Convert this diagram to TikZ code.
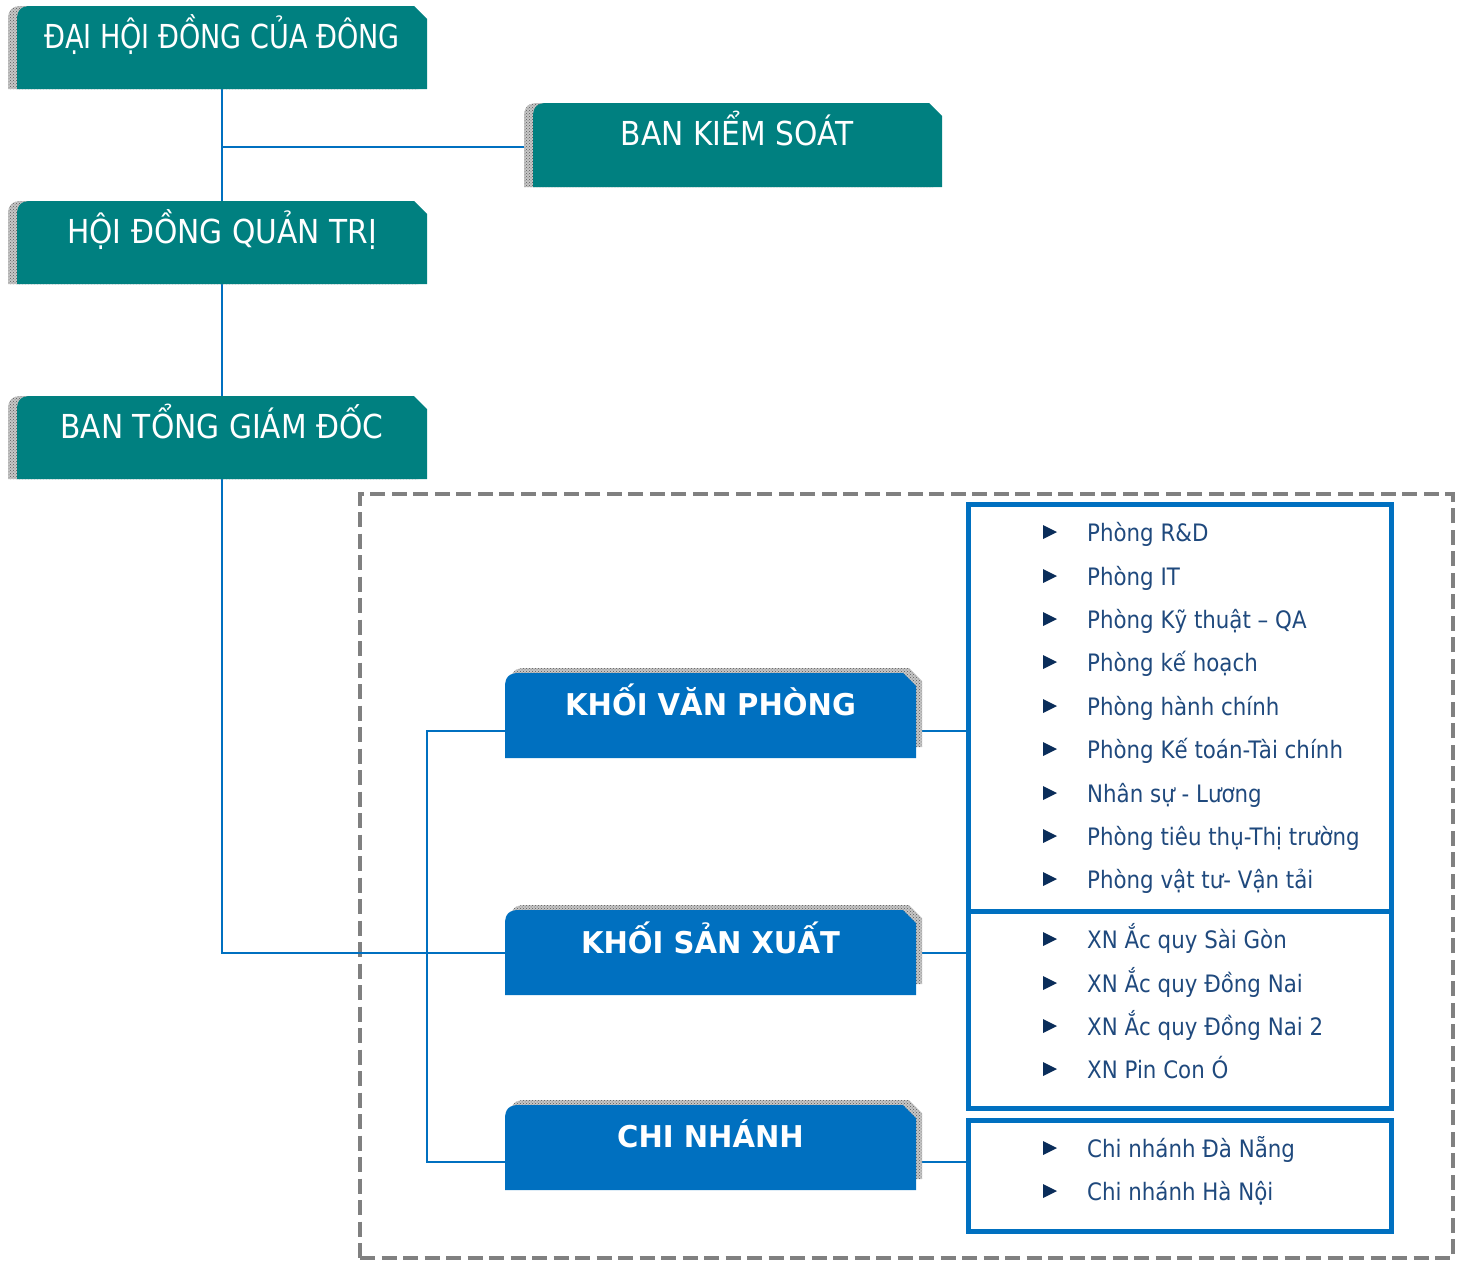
\documentclass[tikz,border=0pt]{standalone}
\usepackage{fontspec}
\setmainfont{DejaVu Sans}[FakeStretch=0.89]
\newfontfamily\headfam{DejaVu Sans}[FakeStretch=0.82]
\newfontfamily\headfamw{DejaVu Sans}[FakeStretch=0.90]
\newfontfamily\boldfam{DejaVu Sans}[FakeStretch=0.97]
\usetikzlibrary{patterns}
\definecolor{tealbox}{RGB}{0,128,128}
\definecolor{lineblue}{RGB}{0,112,192}
\definecolor{itemcol}{RGB}{31,73,125}
\definecolor{bulletcol}{RGB}{10,45,90}
\definecolor{dashgray}{RGB}{128,128,128}
\newcommand\chamfbox[5]{\fill[#1] (#2,#5) -- (#2,#3+14) .. controls (#2,#3+4) and (#2+4,#3) .. (#2+14,#3) -- (#4-13,#3) -- (#4,#3+13) -- (#4,#5) -- cycle;}
\tikzset{
  frame/.style={inner sep=0pt, outer sep=0pt, anchor=north west},
  conn/.style={draw=lineblue, line width=2pt},
  shadowfill/.style={preaction={fill=gray!45}, pattern=crosshatch dots, pattern color=black!65},
  tealtxt/.style={text=white, font=\headfamw\fontsize{33}{40}\selectfont, anchor=base, inner sep=0pt},
  bluetxt/.style={text=white, font=\boldfam\bfseries\fontsize{30}{36}\selectfont, anchor=base, inner sep=0pt},
  itemtxt/.style={text=itemcol, font=\fontsize{24}{29}\selectfont, anchor=base west, inner sep=0pt},
  listbox/.style={frame, draw=lineblue, line width=5pt},
}
\begin{document}
\begin{tikzpicture}[x=1pt, y=-1pt]
\useasboundingbox (0,0) rectangle (1465,1264);
\fill[white] (0,0) rectangle (1465,1264);

% group frame
\node[frame, draw=dashgray, line width=4pt, dash pattern=on 15pt off 6.5pt,
      minimum width=1092.5pt, minimum height=764pt] (grp) at (360,494) {};

% invisible box frames
\node[frame, minimum width=410pt, minimum height=83pt] (dhd) at (17,6) {};
\node[frame, minimum width=409pt, minimum height=84pt] (bks) at (533,103) {};
\node[frame, minimum width=410pt, minimum height=83pt] (hdqt) at (17,201) {};
\node[frame, minimum width=410pt, minimum height=83pt] (btgd) at (17,396) {};
\node[frame, minimum width=411pt, minimum height=85pt] (kvp) at (505,673) {};
\node[frame, minimum width=411pt, minimum height=85pt] (ksx) at (505,910) {};
\node[frame, minimum width=411pt, minimum height=85pt] (cn) at (505,1105) {};

% list boxes
\node[listbox, minimum width=423pt, minimum height=406.5pt] (la) at (968.5,504.5) {};
\node[listbox, minimum width=423pt, minimum height=197pt] (lb) at (968.5,911) {};
\node[listbox, minimum width=423pt, minimum height=111pt] (lc) at (968.5,1120) {};

% connectors
\coordinate (kvpL) at ([yshift=-15pt]kvp.west);
\coordinate (kvpR) at ([yshift=-15pt]kvp.east);
\coordinate (cnL) at ([yshift=-14pt]cn.west);
\coordinate (cnR) at ([yshift=-14pt]cn.east);
\draw[conn] (dhd.south) -- (hdqt.north);
\draw[conn] ([yshift=-2pt]dhd.south |- bks.west) -- ([yshift=-2pt]bks.west);
\draw[conn] (hdqt.south) -- (btgd.north);
\draw[conn] (btgd.south) |- (ksx.west);
\draw[conn] (kvpL) -- ++(-78,0) |- (cnL);
\draw[conn] (kvpR) -- (kvpR -| la.west);
\draw[conn] (ksx.east) -- (ksx.east -| lb.west);
\draw[conn] (cnR) -- (cnR -| lc.west);

% teal boxes
\chamfbox{shadowfill, shift={(-9,0)}}{17}{6}{427}{89}
\chamfbox{tealbox}{17}{6}{427}{89}
\chamfbox{shadowfill, shift={(-9,0)}}{533}{103}{942}{187}
\chamfbox{tealbox}{533}{103}{942}{187}
\chamfbox{shadowfill, shift={(-9,0)}}{17}{201}{427}{284}
\chamfbox{tealbox}{17}{201}{427}{284}
\chamfbox{shadowfill, shift={(-9,0)}}{17}{396}{427}{479}
\chamfbox{tealbox}{17}{396}{427}{479}

% blue boxes
\chamfbox{shadowfill, shift={(6,-5)}}{505}{673}{916}{752}
\chamfbox{lineblue}{505}{673}{916}{758}
\chamfbox{shadowfill, shift={(6,-5)}}{505}{910}{916}{989}
\chamfbox{lineblue}{505}{910}{916}{995}
\chamfbox{shadowfill, shift={(6,-5)}}{505}{1105}{916}{1184}
\chamfbox{lineblue}{505}{1105}{916}{1190}

% box texts
\node[tealtxt, font=\headfam\fontsize{33}{40}\selectfont] (dhdt) at (222,48) {ĐẠI HỘI ĐỒNG CỦA ĐÔNG};
\node[tealtxt] (bkst) at (737,145) {BAN KIỂM SOÁT};
\node[tealtxt] (hdqtt) at (222,243) {HỘI ĐỒNG QUẢN TRỊ};
\node[tealtxt] (btgdt) at (222,438) {BAN TỔNG GIÁM ĐỐC};
\node[bluetxt] (kvpt) at (710.5,715) {KHỐI VĂN PHÒNG};
\node[bluetxt] (ksxt) at (710.5,953) {KHỐI SẢN XUẤT};
\node[bluetxt] (cnt) at (710.5,1147) {CHI NHÁNH};

% list items
\foreach \yy/\txt [count=\i] in {532/Phòng R\&D, 576/Phòng IT, 619/Phòng Kỹ thuật – QA,
  662/Phòng kế hoạch, 706/Phòng hành chính, 749/Phòng Kế toán-Tài chính,
  793/Nhân sự - Lương, 836/Phòng tiêu thụ-Thị trường, 879/Phòng vật tư- Vận tải,
  939/XN Ắc quy Sài Gòn, 983/XN Ắc quy Đồng Nai, 1026/XN Ắc quy Đồng Nai 2,
  1069/XN Pin Con Ó, 1148/Chi nhánh Đà Nẵng, 1191/Chi nhánh Hà Nội}{
  \fill[bulletcol] (1043,\yy-7) -- (1057,\yy) -- (1043,\yy+7) -- cycle;
  \node[itemtxt] (it\i) at (1087,\yy+9) {\txt};
}
\end{tikzpicture}
\end{document}
